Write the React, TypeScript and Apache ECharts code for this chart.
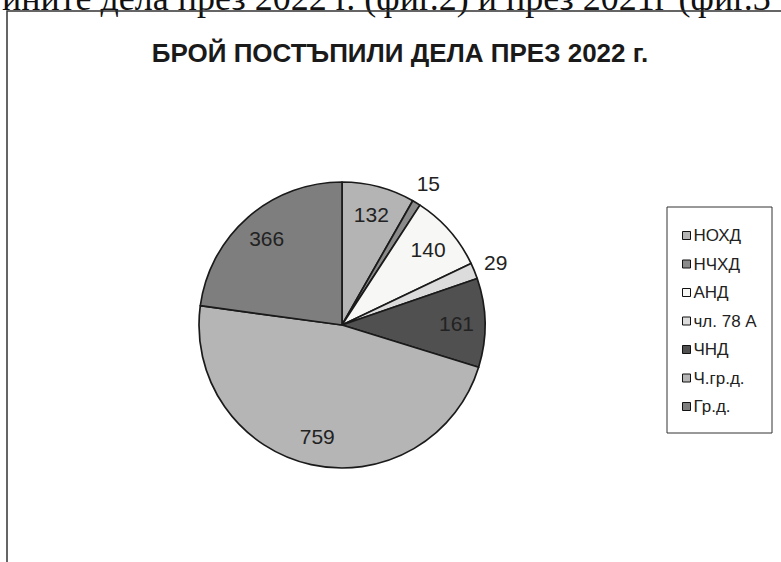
import React, { useEffect, useRef } from "react";
import * as echarts from "echarts";

const categories = ["НОХД", "НЧХД", "АНД", "чл. 78 А", "ЧНД", "Ч.гр.д.", "Гр.д."];
const values = [132, 15, 140, 29, 161, 759, 366];
const sliceColors = ["#b4b4b4", "#8a8a8a", "#f7f7f5", "#dcdcdc", "#505050", "#b5b5b5", "#7e7e7e"];
const outsideLabelCategories = ["НЧХД", "чл. 78 А"];
const titleText = "БРОЙ ПОСТЪПИЛИ ДЕЛА ПРЕЗ 2022 г.";
const topLineText = "ините дела през 2022 г. (фиг.2) и през 2021г (фиг.3";

export default function App() {
  const ref = useRef<HTMLDivElement>(null);
  useEffect(() => {
    document.body.style.margin = "0";
    const chart = echarts.init(ref.current!, null, { renderer: "svg" });
    const center = [342, 325];
    const R = 143;
    const labelStyle = {
      fontFamily: "Liberation Sans",
      fontSize: 21,
      color: "#222",
    };
    const mainData = categories.map((c, i) => ({
      name: c,
      value: values[i],
      itemStyle: { color: sliceColors[i] },
    }));
    const insideData = categories.map((c, i) => ({
      name: c,
      value: values[i],
      label: { show: !outsideLabelCategories.includes(c) },
    }));
    const outsideData = categories.map((c, i) => ({
      name: c,
      value: values[i],
      label: { show: outsideLabelCategories.includes(c) },
    }));
    chart.setOption({
      animation: false,
      backgroundColor: "#ffffff",
      graphic: [
        {
          type: "text",
          x: 2,
          y: 16,
          style: {
            text: topLineText,
            font: "36px 'Liberation Serif'",
            fill: "#111",
            textVerticalAlign: "bottom",
          },
        },
        {
          type: "rect",
          shape: { x: 7, y: 11, width: 800, height: 600 },
          style: { fill: "none", stroke: "#333", lineWidth: 1.5 },
        },
        {
          type: "text",
          x: 400,
          y: 53,
          style: {
            text: titleText,
            font: "bold 26px 'Liberation Sans'",
            fill: "#1a1a1a",
            textAlign: "center",
            textVerticalAlign: "middle",
          },
        },
        {
          type: "rect",
          shape: { x: 667, y: 207, width: 105, height: 226 },
          style: { fill: "none", stroke: "#333", lineWidth: 1 },
        },
      ],
      legend: {
        orient: "vertical",
        left: 682,
        top: 227,
        padding: 0,
        itemGap: 11.5,
        itemWidth: 8,
        itemHeight: 8,
        icon: "rect",
        itemStyle: { borderColor: "#111", borderWidth: 1 },
        textStyle: {
          fontFamily: "Liberation Sans",
          fontSize: 17,
          lineHeight: 17,
          color: "#222",
          padding: [0, 0, 0, -2],
        },
        data: categories,
      },
      series: [
        {
          type: "pie",
          center,
          radius: [0, R],
          startAngle: 90,
          clockwise: true,
          avoidLabelOverlap: false,
          label: { show: false },
          labelLine: { show: false },
          emphasis: { disabled: true },
          itemStyle: { borderColor: "#1a1a1a", borderWidth: 1.7 },
          data: mainData,
        },
        {
          type: "pie",
          center,
          radius: [R * 0.56, R],
          startAngle: 90,
          clockwise: true,
          silent: true,
          avoidLabelOverlap: false,
          itemStyle: { color: "transparent", borderWidth: 0 },
          label: { position: "inside", formatter: "{c}", ...labelStyle },
          labelLine: { show: false },
          emphasis: { disabled: true },
          data: insideData,
        },
        {
          type: "pie",
          center,
          radius: [R + 4, R + 36],
          startAngle: 90,
          clockwise: true,
          silent: true,
          avoidLabelOverlap: false,
          itemStyle: { color: "transparent", borderWidth: 0 },
          label: { position: "inside", formatter: "{c}", ...labelStyle },
          labelLine: { show: false },
          emphasis: { disabled: true },
          data: outsideData,
        },
      ],
    });
    return () => chart.dispose();
  }, []);
  return <div ref={ref} style={{ width: 781, height: 562 }} />;
}
